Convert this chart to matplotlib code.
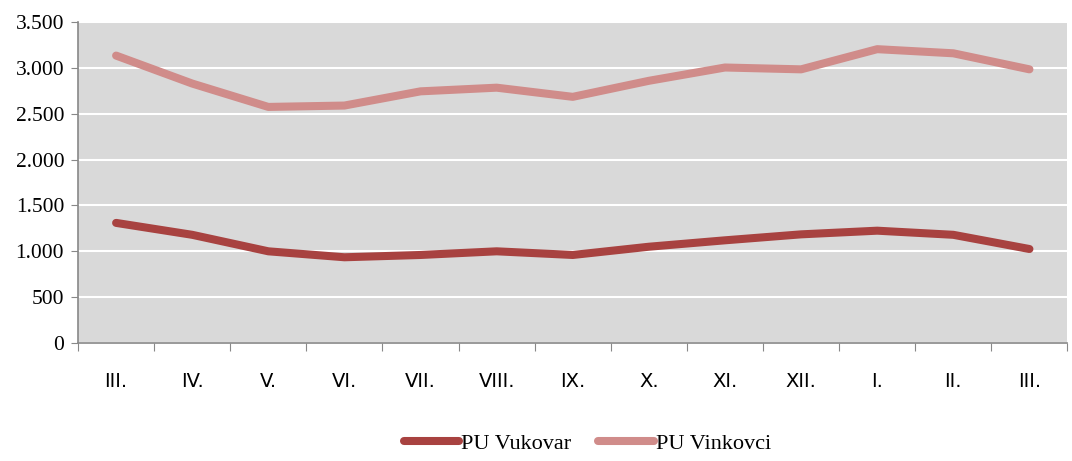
import matplotlib
matplotlib.use("Agg")
import matplotlib.pyplot as plt
import numpy as np
from matplotlib.ticker import FuncFormatter, FixedLocator

months = ["III.", "IV.", "V.", "VI.", "VII.", "VIII.", "IX.", "X.", "XI.", "XII.", "I.", "II.", "III."]
vukovar = [1310, 1180, 1000, 935, 960, 1000, 960, 1050, 1120, 1185, 1225, 1180, 1025]
vinkovci = [3135, 2830, 2575, 2590, 2745, 2785, 2685, 2860, 3005, 2985, 3205, 3160, 2985]

plt.rcParams['font.family'] = ['Liberation Serif', 'DejaVu Serif']

fig = plt.figure(figsize=(10.72, 4.61), dpi=100)
ax = fig.add_axes([0.0728, 0.256, 0.923, 0.696])
ax.set_facecolor('#D9D9D9')

x = np.arange(len(months))
ax.plot(x, vukovar, color='#A84240', lw=5.8, solid_capstyle='round', solid_joinstyle='round', label='PU Vukovar', zorder=3)
ax.plot(x, vinkovci, color='#D08C8A', lw=5.8, solid_capstyle='round', solid_joinstyle='round', label='PU Vinkovci', zorder=3)

ax.set_xlim(-0.5, len(months) - 0.5)
ax.set_ylim(0, 3500)
ax.set_yticks(np.arange(0, 3501, 500))
ax.yaxis.set_major_formatter(FuncFormatter(lambda v, p: f"{int(v):,}".replace(",", ".")))
ax.yaxis.grid(True, color='white', lw=1.5)
ax.set_axisbelow(True)

ax.xaxis.set_major_locator(FixedLocator(np.arange(-0.5, len(months), 1.0)))
ax.xaxis.set_major_formatter(FuncFormatter(lambda v, p: ""))
ax.xaxis.set_minor_locator(FixedLocator(x))
ax.set_xticklabels(months, minor=True, family='DejaVu Sans')
ax.tick_params(axis='x', which='minor', length=0, pad=21, labelsize=14)
ax.tick_params(axis='x', which='major', length=6, color='#888888', direction='out')
ax.tick_params(axis='y', length=5, color='#888888', labelsize=15.5, pad=5)

for s in ['top', 'right']:
    ax.spines[s].set_visible(False)
for s in ['left', 'bottom']:
    ax.spines[s].set_color('#888888')
    ax.spines[s].set_linewidth(1.2)

leg = fig.legend(loc='lower center', bbox_to_anchor=(0.548, -0.028), ncol=2, frameon=False,
                 fontsize=16, handlelength=2.5, handletextpad=0.1, columnspacing=1.2)

fig.savefig("out.png", dpi=100)
